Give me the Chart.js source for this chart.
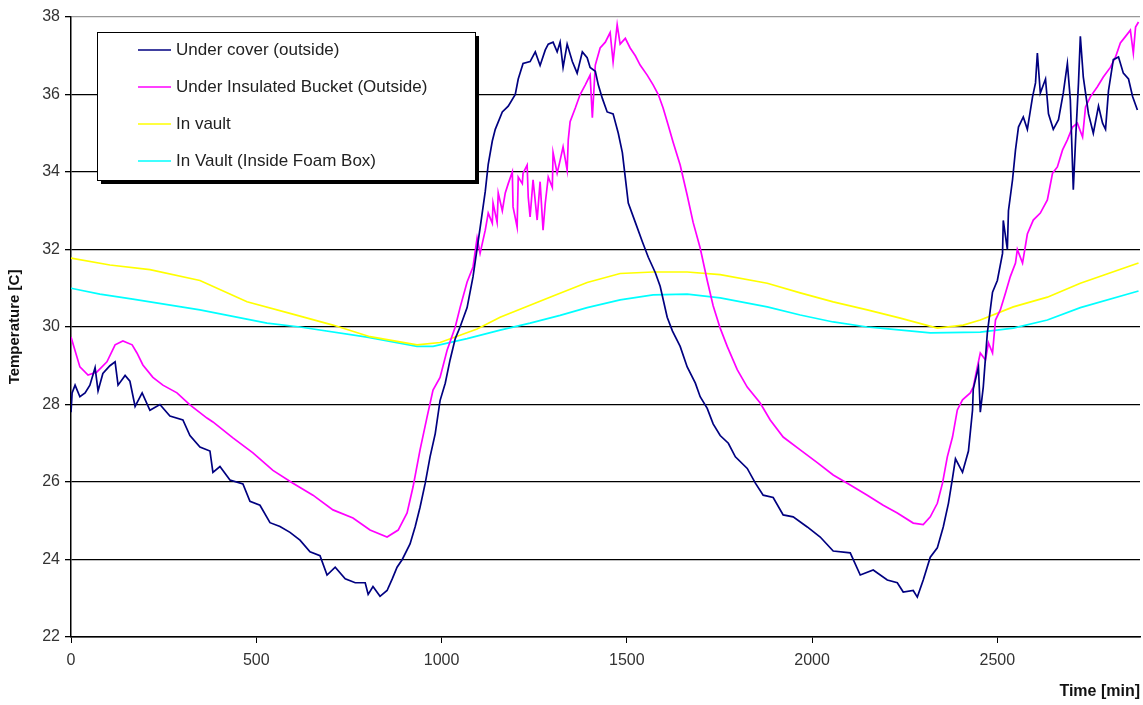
<!DOCTYPE html>
<html>
<head>
<meta charset="utf-8">
<script src="https://cdn.jsdelivr.net/npm/chart.js@4.4.1/dist/chart.umd.min.js"></script>
<style>
  html, body { margin: 0; padding: 0; background: #fff; }
  #wrap { width: 1143px; height: 705px; position: relative; }
</style>
</head>
<body>
<div id="wrap"><canvas id="tempChart"></canvas></div>
<script>
// series labels
const seriesNames = ['Under cover (outside)', 'Under Insulated Bucket (Outside)', 'In vault', 'In Vault (Inside Foam Box)'];

// axis ticks
const xTickValues = [0, 500, 1000, 1500, 2000, 2500];

// time [min] and temperature [C]
const coverTime = [0, 3, 11, 24, 38, 51, 65, 73, 86, 105, 119, 127, 146, 159, 173, 192, 213, 240, 267, 302, 321, 348, 375, 383, 402, 429, 464, 483, 510, 537, 564, 591, 618, 645, 672, 691, 713, 740, 767, 794, 802, 815, 834, 853, 867, 880, 894, 915, 929, 942, 956, 969, 983, 996, 1010, 1023, 1037, 1050, 1069, 1085, 1104, 1118, 1126, 1137, 1145, 1164, 1180, 1199, 1207, 1220, 1239, 1253, 1266, 1280, 1288, 1301, 1312, 1320, 1328, 1339, 1353, 1366, 1380, 1393, 1401, 1415, 1423, 1434, 1447, 1463, 1477, 1488, 1496, 1504, 1523, 1542, 1558, 1577, 1590, 1609, 1623, 1644, 1663, 1685, 1698, 1717, 1733, 1752, 1774, 1793, 1825, 1847, 1868, 1895, 1922, 1949, 1987, 2022, 2057, 2103, 2130, 2165, 2203, 2230, 2246, 2273, 2284, 2300, 2319, 2338, 2354, 2368, 2379, 2387, 2406, 2422, 2433, 2435, 2449, 2454, 2462, 2473, 2487, 2500, 2514, 2516, 2527, 2530, 2541, 2549, 2557, 2570, 2581, 2595, 2603, 2608, 2616, 2630, 2638, 2651, 2665, 2678, 2689, 2697, 2705, 2711, 2719, 2724, 2732, 2746, 2759, 2773, 2784, 2792, 2800, 2813, 2827, 2840, 2854, 2865, 2878];
const coverTemp = [27.8, 28.3, 28.5, 28.2, 28.3, 28.5, 28.95, 28.35, 28.8, 29.0, 29.1, 28.5, 28.75, 28.6, 27.95, 28.3, 27.85, 28.0, 27.7, 27.6, 27.2, 26.9, 26.8, 26.25, 26.4, 26.05, 25.95, 25.5, 25.4, 24.95, 24.85, 24.7, 24.5, 24.2, 24.1, 23.6, 23.8, 23.5, 23.4, 23.4, 23.1, 23.3, 23.05, 23.2, 23.5, 23.8, 24.0, 24.4, 24.85, 25.35, 25.97, 26.65, 27.25, 28.1, 28.55, 29.15, 29.7, 30.0, 30.5, 31.3, 32.55, 33.5, 34.2, 34.8, 35.1, 35.55, 35.7, 36.0, 36.4, 36.8, 36.85, 37.1, 36.75, 37.15, 37.3, 37.35, 37.1, 37.35, 36.7, 37.3, 36.85, 36.55, 37.1, 36.95, 36.7, 36.6, 36.25, 35.9, 35.55, 35.5, 35.0, 34.5, 33.85, 33.2, 32.7, 32.2, 31.8, 31.4, 31.05, 30.25, 29.9, 29.5, 28.97, 28.55, 28.2, 27.9, 27.5, 27.2, 27.0, 26.65, 26.35, 25.97, 25.66, 25.6, 25.15, 25.1, 24.84, 24.58, 24.22, 24.17, 23.6, 23.73, 23.47, 23.4, 23.16, 23.2, 23.03, 23.47, 24.06, 24.3, 24.84, 25.45, 26.1, 26.6, 26.25, 26.8, 27.85, 28.4, 28.97, 27.8, 28.45, 29.85, 30.9, 31.2, 31.9, 32.75, 32.0, 33.0, 33.8, 34.57, 35.16, 35.42, 35.1, 35.94, 36.3, 37.07, 36.04, 36.4, 35.5, 35.1, 35.35, 36.04, 36.8, 35.86, 33.54, 34.8, 36.3, 37.5, 36.45, 35.5, 35.0, 35.7, 35.26, 35.1, 36.1, 36.9, 36.97, 36.55, 36.4, 35.95, 35.6];

const bucketTime = [0, 24, 46, 70, 97, 119, 140, 165, 178, 194, 221, 248, 286, 321, 367, 383, 437, 491, 545, 599, 653, 707, 761, 807, 853, 883, 907, 923, 942, 961, 977, 996, 1015, 1037, 1050, 1069, 1085, 1096, 1104, 1118, 1126, 1137, 1139, 1150, 1153, 1164, 1172, 1180, 1191, 1193, 1204, 1207, 1218, 1220, 1231, 1234, 1239, 1247, 1258, 1266, 1274, 1280, 1288, 1299, 1301, 1312, 1320, 1328, 1339, 1342, 1347, 1361, 1374, 1388, 1401, 1407, 1415, 1428, 1442, 1455, 1463, 1474, 1482, 1496, 1509, 1523, 1536, 1555, 1571, 1585, 1598, 1612, 1625, 1644, 1663, 1679, 1698, 1717, 1733, 1752, 1771, 1798, 1825, 1860, 1887, 1922, 1968, 2014, 2057, 2103, 2149, 2192, 2230, 2273, 2300, 2319, 2338, 2352, 2365, 2379, 2392, 2406, 2427, 2435, 2446, 2454, 2468, 2476, 2487, 2495, 2508, 2522, 2535, 2549, 2554, 2568, 2581, 2597, 2616, 2635, 2649, 2662, 2676, 2689, 2703, 2716, 2730, 2738, 2751, 2770, 2786, 2805, 2819, 2832, 2846, 2859, 2867, 2873, 2881];
const bucketTemp = [29.74, 28.97, 28.76, 28.84, 29.1, 29.54, 29.64, 29.54, 29.33, 29.02, 28.7, 28.5, 28.3, 27.99, 27.65, 27.55, 27.14, 26.75, 26.3, 25.97, 25.66, 25.28, 25.07, 24.76, 24.58, 24.76, 25.2, 25.87, 26.83, 27.68, 28.37, 28.7, 29.4, 30.0, 30.5, 31.16, 31.55, 32.3, 31.9, 32.5, 32.94, 32.68, 33.2, 32.7, 33.46, 33.0, 33.46, 33.7, 34.0, 33.1, 32.58, 33.87, 33.7, 33.97, 34.18, 33.35, 32.84, 33.8, 32.76, 33.75, 32.5, 33.2, 33.87, 33.6, 34.5, 33.97, 34.3, 34.65, 34.05, 34.83, 35.3, 35.65, 36.0, 36.25, 36.5, 35.4, 36.76, 37.2, 37.35, 37.6, 36.84, 37.8, 37.3, 37.45, 37.2, 37.0, 36.76, 36.5, 36.25, 36.0, 35.65, 35.2, 34.77, 34.18, 33.4, 32.7, 32.04, 31.2, 30.55, 29.97, 29.5, 28.9, 28.45, 28.04, 27.6, 27.16, 26.83, 26.5, 26.18, 25.92, 25.66, 25.4, 25.2, 24.94, 24.9, 25.1, 25.45, 25.97, 26.65, 27.16, 27.86, 28.12, 28.3, 28.45, 28.97, 29.33, 29.15, 29.59, 29.33, 30.18, 30.44, 30.88, 31.3, 31.65, 32.0, 31.65, 32.4, 32.76, 32.94, 33.28, 33.97, 34.13, 34.57, 34.83, 35.16, 35.26, 34.9, 35.68, 35.94, 36.2, 36.45, 36.7, 36.97, 37.33, 37.5, 37.66, 37.07, 37.74, 37.87];

const vaultTime = [0, 105, 213, 348, 475, 591, 707, 807, 934, 996, 1096, 1158, 1301, 1393, 1482, 1571, 1663, 1752, 1879, 1968, 2057, 2149, 2238, 2338, 2408, 2454, 2543, 2635, 2724, 2881];
const vaultTemp = [31.78, 31.6, 31.48, 31.2, 30.65, 30.35, 30.05, 29.75, 29.54, 29.6, 29.95, 30.25, 30.8, 31.15, 31.38, 31.42, 31.42, 31.35, 31.13, 30.88, 30.65, 30.44, 30.23, 29.97, 30.05, 30.18, 30.52, 30.77, 31.13, 31.65];

const foamTime = [0, 78, 167, 348, 529, 618, 799, 934, 977, 1069, 1158, 1239, 1320, 1393, 1482, 1571, 1663, 1752, 1879, 1968, 2057, 2149, 2184, 2319, 2454, 2543, 2635, 2724, 2881];
const foamTemp = [31.0, 30.85, 30.72, 30.44, 30.1, 30.0, 29.74, 29.5, 29.5, 29.7, 29.92, 30.1, 30.3, 30.5, 30.7, 30.83, 30.85, 30.75, 30.52, 30.31, 30.13, 30.0, 29.97, 29.85, 29.87, 29.97, 30.18, 30.5, 30.93];

const seriesColors = ['#000080', '#ff00ff', '#ffff00', '#00ffff'];

const fontFamily = '"Liberation Sans", Arial, sans-serif';

function toPoints(xs, ys) {
  return xs.map((x, i) => ({ x: x, y: ys[i] }));
}

// legend box drawn inside the plot, with a black drop shadow
const boxLegend = {
  id: 'boxLegend',
  afterDatasetsDraw(chart) {
    const ctx = chart.ctx;
    const bx = 97, by = 32, bw = 378, bh = 148;
    ctx.save();
    ctx.fillStyle = '#000';
    ctx.fillRect(bx + 4, by + 4, bw, bh);
    ctx.fillStyle = '#fff';
    ctx.fillRect(bx, by, bw, bh);
    ctx.strokeStyle = '#000';
    ctx.lineWidth = 1;
    ctx.strokeRect(bx + 0.5, by + 0.5, bw, bh);
    ctx.font = '17px ' + fontFamily;
    ctx.textBaseline = 'middle';
    chart.data.datasets.forEach((ds, i) => {
      const y = by + 18 + i * 37;
      ctx.strokeStyle = ds.borderColor;
      ctx.lineWidth = 1.6;
      ctx.beginPath();
      ctx.moveTo(138, y);
      ctx.lineTo(171, y);
      ctx.stroke();
      ctx.fillStyle = '#222';
      ctx.fillText(ds.label, 176, y);
    });
    ctx.restore();
  }
};

const chart = new Chart(document.getElementById('tempChart'), {
  type: 'line',
  data: {
    datasets: [
      { label: seriesNames[0], data: toPoints(coverTime, coverTemp), borderColor: seriesColors[0] },
      { label: seriesNames[1], data: toPoints(bucketTime, bucketTemp), borderColor: seriesColors[1] },
      { label: seriesNames[2], data: toPoints(vaultTime, vaultTemp), borderColor: seriesColors[2] },
      { label: seriesNames[3], data: toPoints(foamTime, foamTemp), borderColor: seriesColors[3] }
    ]
  },
  options: {
    responsive: true,
    maintainAspectRatio: false,
    animation: false,
    layout: { padding: { left: 6, right: 3, top: 17, bottom: 4 } },
    elements: {
      point: { radius: 0 },
      line: { borderWidth: 1.7, tension: 0 }
    },
    plugins: {
      legend: { display: false },
      tooltip: { enabled: false }
    },
    scales: {
      x: {
        type: 'linear',
        min: 0,
        max: 2885,
        afterBuildTicks: scale => { scale.ticks = xTickValues.map(v => ({ value: v })); },
        afterFit: scale => { scale.height = 64; },
        border: { color: '#000', width: 1.5 },
        grid: { drawOnChartArea: false, drawTicks: true, tickLength: 6, color: '#000' },
        ticks: {
          color: '#333',
          padding: 8,
          maxRotation: 0,
          callback: value => String(value),
          font: { family: fontFamily, size: 16 }
        },
        title: {
          display: true,
          text: 'Time [min]',
          align: 'end',
          color: '#111',
          padding: { top: 4, bottom: 0 },
          font: { family: fontFamily, size: 16, weight: 'bold' }
        }
      },
      y: {
        min: 22,
        max: 38,
        afterFit: scale => { scale.width = 65; },
        border: { color: '#000', width: 1.5 },
        grid: {
          color: ctx => (ctx.tick && ctx.tick.value === 38 ? '#999' : '#000'),
          tickColor: '#000',
          lineWidth: 1.3,
          tickLength: 6
        },
        ticks: {
          stepSize: 2,
          color: '#333',
          padding: 5,
          font: { family: fontFamily, size: 16 }
        },
        title: {
          display: true,
          text: 'Temperature [C]',
          color: '#111',
          padding: { top: 0, bottom: 0 },
          font: { family: fontFamily, size: 15, weight: 'bold' }
        }
      }
    }
  },
  plugins: [boxLegend]
});
</script>
</body>
</html>
